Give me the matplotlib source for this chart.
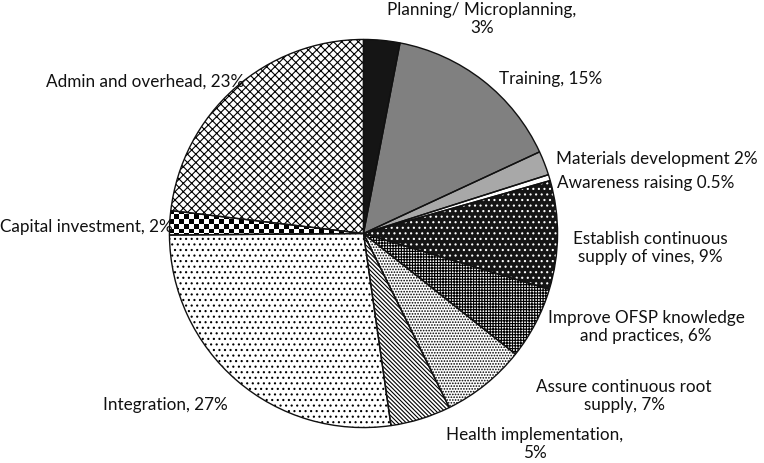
import numpy as np
import matplotlib.pyplot as plt

plt.rcParams['font.family'] = ['Lato', 'DejaVu Sans']
plt.rcParams['hatch.linewidth'] = 0.8

# cost shares, clockwise from the top
labels = ['Planning/ Microplanning,\n3%', 'Training, 15%', 'Materials development 2%',
          'Awareness raising 0.5%', 'Establish continuous\nsupply of vines, 9%',
          'Improve OFSP knowledge\nand practices, 6%', 'Assure continuous root\nsupply, 7%',
          'Health implementation,\n5%', 'Integration, 27%', 'Capital investment, 2%',
          'Admin and overhead, 23%']
values = [3, 15, 2, 0.5, 9, 6, 7, 5, 27, 2, 23]

faces = ['#151515', '#808080', '#a8a8a8', 'white', '#151515', 'white', 'white',
         'white', 'white', 'white', 'white']
hatches = [None, None, None, None, '...', '++++++', '......', '\\' * 8, '...', None, 'xxxx']
hcols = ['black', 'black', 'black', 'black', 'white', 'black', 'black', 'black',
         'black', 'black', 'black']

# label positions in pixels (x, y from top), alignment
lab_pos = [(482, 19, 'center'), (551, 79, 'center'), (556, 159, 'left'),
           (557, 183, 'left'), (650, 248, 'center'), (646, 327, 'center'),
           (624, 396, 'center'), (535, 444, 'center'), (165, 405, 'center'),
           (0, 227, 'left'), (145, 82, 'center')]

W, H = 764, 464
fig = plt.figure(figsize=(W / 100, H / 100), dpi=100)
cx, cy, r = 363.5, 234.5, 196
ax = fig.add_axes([(cx - r) / W, (H - cy - r) / H, 2 * r / W, 2 * r / H])

wedges, _ = ax.pie(values, startangle=90, counterclock=False, radius=1)
for w, fc, h, hc in zip(wedges, faces, hatches, hcols):
    w.set_facecolor(fc)
    w.set_edgecolor(hc)
    w.set_linewidth(0)
    if h:
        w.set_hatch(h)

# checkerboard texture for capital investment
n = 78
chk = (np.indices((n, n)).sum(axis=0) % 2).astype(float)
im = ax.imshow(chk, cmap='gray', extent=(-1, 1, -1, 1), interpolation='nearest',
               zorder=2)
im.set_clip_path(wedges[9])

# outlines
outl, _ = ax.pie(values, startangle=90, counterclock=False, radius=1,
                 wedgeprops=dict(facecolor='none', edgecolor='#111111', linewidth=1.0))
for o in outl:
    o.set_zorder(3)

ax.set_xlim(-1.01, 1.01)
ax.set_ylim(-1.01, 1.01)
ax.axis('off')

for lab, (x, y, ha) in zip(labels, lab_pos):
    fig.text(x / W, 1 - y / H, lab, ha=ha, va='center', fontsize=12.3,
             color='#111111', linespacing=1.2, multialignment='center')

fig.savefig('out.png', dpi=100)
